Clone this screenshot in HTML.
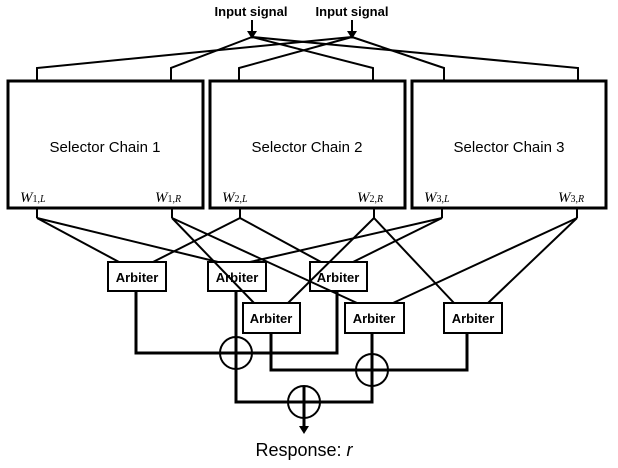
<!DOCTYPE html>
<html><head><meta charset="utf-8"><style>
body{margin:0;background:#fff;}
svg{display:block;}
</style></head><body>
<svg width="618" height="468" viewBox="0 0 618 468" xmlns="http://www.w3.org/2000/svg">
<g font-family="Liberation Sans, sans-serif">
<text x="251" y="16" font-size="13" font-weight="bold" text-anchor="middle">Input signal</text>
<text x="352" y="16" font-size="13" font-weight="bold" text-anchor="middle">Input signal</text>
</g>
<g stroke="#000" stroke-width="2" fill="none">
<line x1="252" y1="20" x2="252" y2="33"/>
<line x1="352" y1="20" x2="352" y2="33"/>
<!-- top connections -->
<polyline points="37,80 37,68 352,37"/>
<polyline points="171,80 171,68 252,37"/>
<polyline points="239,80 239,68 352,37"/>
<polyline points="373,80 373,68 252,37"/>
<polyline points="444,80 444,68 352,37"/>
<polyline points="578,80 578,68 252,37"/>
<!-- bottom stubs -->
<line x1="37" y1="208" x2="37" y2="218"/>
<line x1="172" y1="208" x2="172" y2="218"/>
<line x1="240" y1="208" x2="240" y2="218"/>
<line x1="374" y1="208" x2="374" y2="218"/>
<line x1="442" y1="208" x2="442" y2="218"/>
<line x1="577" y1="208" x2="577" y2="218"/>
<line x1="37" y1="218" x2="119" y2="262"/>
<line x1="37" y1="218" x2="218" y2="262"/>
<line x1="172" y1="218" x2="254" y2="303"/>
<line x1="172" y1="218" x2="357" y2="303"/>
<line x1="240" y1="218" x2="153" y2="262"/>
<line x1="240" y1="218" x2="321" y2="262"/>
<line x1="374" y1="218" x2="288" y2="303"/>
<line x1="374" y1="218" x2="454" y2="303"/>
<line x1="442" y1="218" x2="250" y2="262"/>
<line x1="442" y1="218" x2="353" y2="262"/>
<line x1="577" y1="218" x2="393" y2="303"/>
<line x1="577" y1="218" x2="488" y2="303"/>
</g>
<polygon points="247,31 257,31 252,39" fill="#000"/>
<polygon points="347,31 357,31 352,39" fill="#000"/>
<g stroke="#000" stroke-width="3" fill="#fff">
<rect x="8" y="81" width="195" height="127"/>
<rect x="210" y="81" width="195" height="127"/>
<rect x="412" y="81" width="194" height="127"/>
</g>
<g font-family="Liberation Sans, sans-serif" font-size="15" text-anchor="middle" fill="#000">
<text x="105" y="152">Selector Chain 1</text>
<text x="307" y="152">Selector Chain 2</text>
<text x="509" y="152">Selector Chain 3</text>
</g>
<g font-family="Liberation Serif, serif" font-style="italic" font-size="15" fill="#000">
<text x="20" y="202">W<tspan font-size="10" font-style="normal">1,</tspan><tspan font-size="10">L</tspan></text>
<text x="155" y="202">W<tspan font-size="10" font-style="normal">1,</tspan><tspan font-size="10">R</tspan></text>
<text x="222" y="202">W<tspan font-size="10" font-style="normal">2,</tspan><tspan font-size="10">L</tspan></text>
<text x="357" y="202">W<tspan font-size="10" font-style="normal">2,</tspan><tspan font-size="10">R</tspan></text>
<text x="424" y="202">W<tspan font-size="10" font-style="normal">3,</tspan><tspan font-size="10">L</tspan></text>
<text x="558" y="202">W<tspan font-size="10" font-style="normal">3,</tspan><tspan font-size="10">R</tspan></text>
</g>
<!-- outputs -->
<g stroke="#000" stroke-width="3" fill="none">
<polyline points="136,291 136,353 337,353 337,291"/>
<polyline points="236,291 236,402 372,402 372,333"/>
<polyline points="271,333 271,370 467,370 467,333"/>
<line x1="304" y1="402" x2="304" y2="428"/>
<circle cx="236" cy="353" r="16" stroke-width="2"/>
<circle cx="372" cy="370" r="16" stroke-width="2"/>
<circle cx="304" cy="402" r="16" stroke-width="2"/>
<line x1="220" y1="353" x2="252" y2="353"/>
<line x1="356" y1="370" x2="388" y2="370"/>
<line x1="288" y1="402" x2="320" y2="402"/>
<line x1="304" y1="386" x2="304" y2="418"/>
<line x1="372" y1="354" x2="372" y2="386"/>
<line x1="236" y1="337" x2="236" y2="369"/>
</g>
<polygon points="299,426 309,426 304,434" fill="#000"/>
<g stroke="#000" stroke-width="2" fill="#fff">
<rect x="108" y="262" width="58" height="29"/>
<rect x="208" y="262" width="58" height="29" fill="none"/>
<rect x="310" y="262" width="57" height="29" fill="none"/>
<rect x="243" y="303" width="57" height="30"/>
<rect x="345" y="303" width="59" height="30"/>
<rect x="444" y="303" width="58" height="30"/>
</g>
<g font-family="Liberation Sans, sans-serif" font-size="13" font-weight="bold" text-anchor="middle" fill="#000">
<text x="137" y="282">Arbiter</text>
<text x="237" y="282">Arbiter</text>
<text x="338" y="282">Arbiter</text>
<text x="271" y="323">Arbiter</text>
<text x="374" y="323">Arbiter</text>
<text x="473" y="323">Arbiter</text>
</g>
<text x="304" y="456" font-family="Liberation Sans, sans-serif" font-size="18" text-anchor="middle">Response: <tspan font-style="italic">r</tspan></text>
</svg>
</body></html>
